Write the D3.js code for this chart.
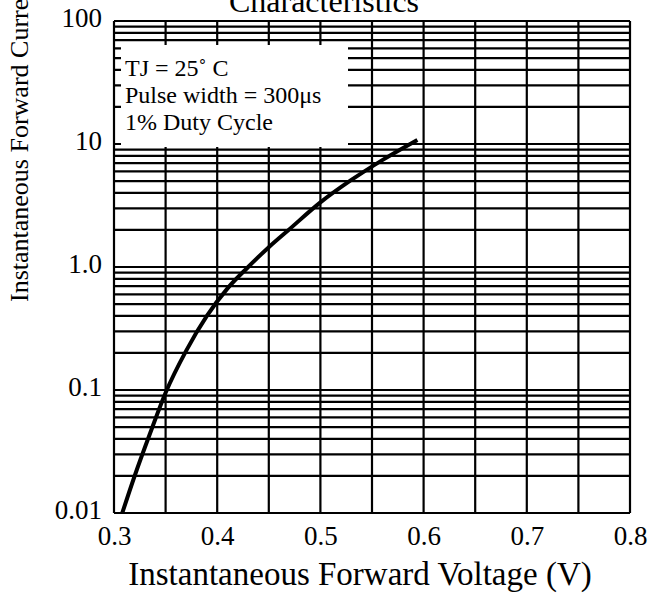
<!DOCTYPE html>
<html><head><meta charset="utf-8">
<script src="https://cdn.jsdelivr.net/npm/d3@7"></script>
<style>
html,body{margin:0;padding:0;background:#fff;}
svg{display:block;}
text{font-family:"Liberation Serif","Times New Roman",serif;fill:#000;}
</style></head>
<body>
<svg id="chart" width="657" height="597"></svg>
<script>
const voltage = [0.308, 0.32, 0.335, 0.35, 0.37, 0.39, 0.41, 0.43, 0.45, 0.47, 0.50, 0.53, 0.56, 0.594];
const current = [0.010, 0.020, 0.0445, 0.095, 0.209, 0.40, 0.67, 1.0, 1.45, 2.03, 3.35, 5.1, 7.4, 10.8];
const xTicks = [0.3, 0.4, 0.5, 0.6, 0.7, 0.8];
const xGrid = [0.3, 0.35, 0.4, 0.45, 0.5, 0.55, 0.6, 0.65, 0.7, 0.75, 0.8];
const yTicks = [0.01, 0.1, 1, 10, 100];
const yTickLabels = ["0.01", "0.1", "1.0", "10", "100"];
const legendLines = ["TJ = 25\u02DA  C", "Pulse width = 300\u03BCs", "1% Duty Cycle"];
const titleText = "Characteristics";
const xTitle = "Instantaneous Forward Voltage (V)";
const yTitle = "Instantaneous Forward Current (A)";

const L = 114, R = 630, T = 21, B = 513;
const svg = d3.select("#chart");
const x = d3.scaleLinear().domain([0.3, 0.8]).range([L, R]);
const y = d3.scaleLog().domain([0.01, 100]).range([B, T]);

const yGrid = [];
for (let d = -2; d < 2; d++) for (let m = 1; m <= 9; m++) yGrid.push(m * Math.pow(10, d));
yGrid.push(100);

const g = svg.append("g");
g.selectAll("line.h").data(yGrid).join("line").attr("class","h")
  .attr("x1", L).attr("x2", R).attr("y1", d => y(d)).attr("y2", d => y(d))
  .attr("stroke", "#000").attr("stroke-width", 2.2);
g.selectAll("line.v").data(xGrid).join("line").attr("class","v")
  .attr("x1", d => x(d)).attr("x2", d => x(d)).attr("y1", T).attr("y2", B)
  .attr("stroke", "#000").attr("stroke-width", 2.2);

// legend box (white, covers grid)
svg.append("rect").attr("x", 121).attr("y", 45).attr("width", 227).attr("height", 102).attr("fill", "#fff");
svg.append("g").selectAll("text").data(legendLines).join("text")
  .attr("x", 125).attr("y", (d, i) => 76 + i * 27)
  .attr("font-size", 24).text(d => d);

// curve
const line = d3.line().x(d => x(d[0])).y(d => y(d[1])).curve(d3.curveMonotoneX);
svg.append("path").datum(voltage.map((v, i) => [v, current[i]]))
  .attr("d", line).attr("fill", "none").attr("stroke", "#000").attr("stroke-width", 4);

// axes tick labels
const xAxis = d3.axisBottom(x).tickValues(xTicks).tickSize(0).tickFormat(d3.format(".1f"));
const xa = svg.append("g").attr("transform", `translate(0,${B})`).call(xAxis);
xa.select(".domain").remove();
xa.selectAll("text").attr("font-size", 27).attr("font-family", null).attr("dy", null).attr("y", 32);

const yAxis = d3.axisLeft(y).tickValues(yTicks).tickSize(0).tickFormat((d, i) => yTickLabels[i]);
const ya = svg.append("g").attr("transform", `translate(${L},0)`).call(yAxis);
ya.select(".domain").remove();
ya.selectAll("text").attr("font-size", 27).attr("font-family", null).attr("x", -12).attr("dy", "0.2em");

// titles
svg.append("text").attr("x", 324).attr("y", 12).attr("text-anchor", "middle").attr("font-size", 32).text(titleText);
svg.append("text").attr("x", 360).attr("y", 585).attr("text-anchor", "middle").attr("font-size", 33).text(xTitle);
svg.append("text").attr("transform", "translate(28,302) rotate(-90)").attr("text-anchor", "start").attr("font-size", 26).text(yTitle);
</script>
</body></html>
